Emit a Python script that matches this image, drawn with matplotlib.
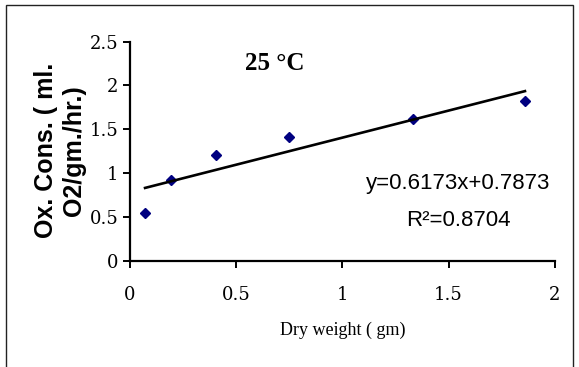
import numpy as np
import matplotlib
matplotlib.use('Agg')
import matplotlib.pyplot as plt
from matplotlib.patches import Rectangle

# data
dry_weight = [0.073, 0.194, 0.407, 0.751, 1.334, 1.859]
ox_cons = [0.55, 0.92, 1.205, 1.41, 1.62, 1.82]
slope = 0.6173
intercept = 0.7873
r_squared = 0.8704
x_ticks = [0, 0.5, 1, 1.5, 2]
y_ticks = [0, 0.5, 1, 1.5, 2, 2.5]

fig = plt.figure(figsize=(5.79, 3.67), dpi=100)
ax = fig.add_axes([0.2237, 0.2888, 0.9585 - 0.2237, 0.8869 - 0.2888])

# frame around whole chart (bottom edge is cut off in the original)
fig.patches.append(Rectangle((5.5 / 579, -0.1), 567 / 579, 1.1 - 5 / 367,
                             transform=fig.transFigure, fill=False,
                             edgecolor='#222222', linewidth=1.0))

ax.plot(dry_weight, ox_cons, linestyle='none', marker='D', markersize=4.8,
        color='#000080')

# linear trendline from the stated equation
xs = np.array([min(dry_weight), max(dry_weight)])
ax.plot(xs, slope * xs + intercept, color='black', linewidth=1.9)

ax.set_xlim(0, 2)
ax.set_ylim(0, 2.5)
ax.set_xticks(x_ticks)
ax.set_yticks(y_ticks)
ax.set_xticklabels(['0', '0.5', '1', '1.5', '2'])
ax.set_yticklabels(['0', '0.5', '1', '1.5', '2', '2.5'])

for s in ['top', 'right']:
    ax.spines[s].set_visible(False)
for s in ['left', 'bottom']:
    ax.spines[s].set_linewidth(1.6)

ax.tick_params(axis='both', direction='out', length=5, width=1.4,
               labelsize=13, labelfontfamily='DejaVu Serif')
ax.tick_params(axis='x', pad=13)
ax.tick_params(axis='y', pad=3)

ax.text(0.682, 2.25, '25 °C', family='Liberation Serif', fontweight='bold',
        fontsize=18, ha='center', va='center')
ax.text(1.547, 0.883, 'y=%.4fx+%.4f' % (slope, intercept),
        family='Liberation Sans', fontsize=16, ha='center', va='center')
ax.text(1.547, 0.466, 'R²=%.4f' % r_squared,
        family='Liberation Sans', fontsize=16, ha='center', va='center')

fig.text(60 / 579, 0.59, 'Ox. Cons. ( ml.\nO2/gm./hr.)', rotation=90,
         family='Liberation Sans', fontweight='bold', fontsize=18,
         ha='center', va='center', multialignment='center', linespacing=1.2)
fig.text(343 / 579, 1 - 330 / 367, 'Dry weight ( gm)',
         family='Liberation Serif', fontsize=13, ha='center', va='center')

fig.savefig('out.png', dpi=100)
